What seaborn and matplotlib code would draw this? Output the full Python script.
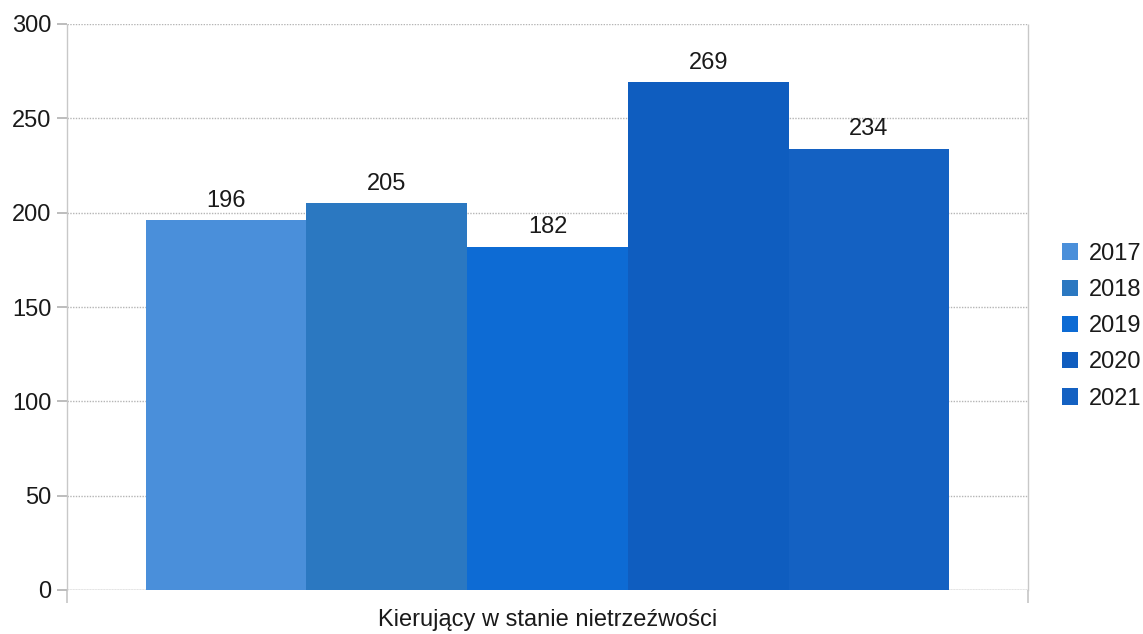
import matplotlib
matplotlib.use("Agg")
import matplotlib.pyplot as plt
import seaborn as sns
import pandas as pd

category = "Kierujący w stanie nietrzeźwości"
years = ["2017", "2018", "2019", "2020", "2021"]
values = [196, 205, 182, 269, 234]
colors = ["#4a8fda", "#2b78c1", "#0d6bd4", "#0f5dbf", "#1461c2"]
yticks = [0, 50, 100, 150, 200, 250, 300]

sns.set_theme(style="white")
plt.rcParams["font.family"] = ["Liberation Sans", "DejaVu Sans"]

df = pd.DataFrame({"cat": [category] * len(years), "year": years, "value": values})

fig = plt.figure(figsize=(11.43, 6.34), dpi=100)
ax = fig.add_axes([67 / 1143, 1 - 590 / 634, (1028 - 67) / 1143, (590 - 24) / 634])

sns.barplot(data=df, x="cat", y="value", hue="year", palette=colors,
            saturation=1, width=0.836, gap=0, ax=ax, legend=True, linewidth=0)

ax.set_xlim(-0.5, 0.5)
ax.set_ylim(0, 300)
ax.set_yticks(yticks)
ax.yaxis.grid(True, color="#b5b5b5", linewidth=1.0, linestyle=(0, (1, 1)))
ax.set_axisbelow(True)
for s in ["top", "bottom"]:
    ax.spines[s].set_visible(False)
for s in ["left", "right"]:
    ax.spines[s].set_visible(True)
    ax.spines[s].set_color("#c8c8c8")
    ax.spines[s].set_linestyle((0, (1, 1)))
    ax.spines[s].set_linewidth(1.0)

ax.tick_params(axis="y", left=True, length=7, color="#b5b5b5", labelsize=17,
               labelcolor="#1a1a1a", pad=4)
ax.set_xticks([-0.5, 0.5])
ax.set_xticklabels(["", ""])
ax.tick_params(axis="x", bottom=True, length=9, color="#c8c8c8")
ax.set_xlabel(category, fontsize=17, color="#1a1a1a", labelpad=1.5)
ax.set_ylabel("")
ax.axhline(0, color="#b5b5b5", linewidth=1.0, zorder=0)

for cont in ax.containers:
    ax.bar_label(cont, fmt="%d", padding=6, fontsize=17, color="#1a1a1a")

handles, labels = ax.get_legend_handles_labels()
leg = ax.legend(handles, labels, loc="center left", bbox_to_anchor=(1.013, 0.466),
                frameon=False, fontsize=17, handlelength=0.7, handleheight=0.7,
                handletextpad=0.45, labelspacing=0.6, labelcolor="#1a1a1a")

fig.savefig("out.png", dpi=100, facecolor="white")
